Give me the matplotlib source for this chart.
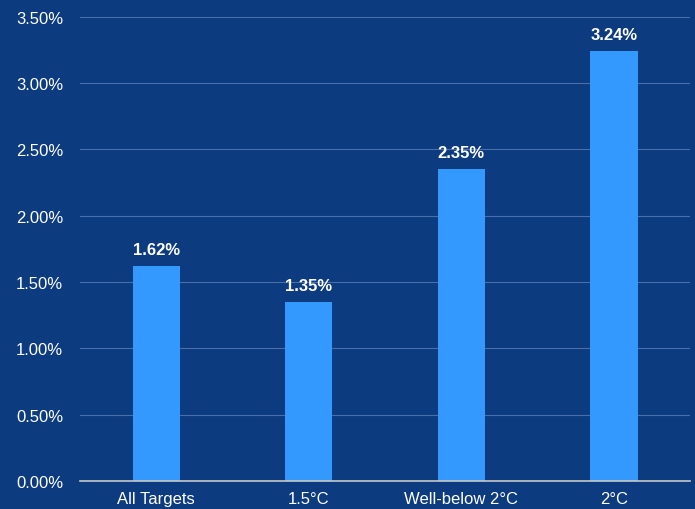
import matplotlib
matplotlib.use("Agg")
import matplotlib.pyplot as plt
from matplotlib.ticker import PercentFormatter

categories = ["All Targets", "1.5°C", "Well-below 2°C", "2°C"]
values = [1.62, 1.35, 2.35, 3.24]
yticks = [0.0, 0.5, 1.0, 1.5, 2.0, 2.5, 3.0, 3.5]

bg = "#0c3b80"
bar_color = "#3399ff"

plt.rcParams["font.family"] = ["Liberation Sans", "DejaVu Sans"]

fig = plt.figure(figsize=(6.95, 5.10), dpi=100, facecolor=bg)
ax = fig.add_axes([0.115, 0.055, 0.878, 0.91], facecolor=bg)

x = range(len(categories))
ax.bar(x, values, width=0.31, color=bar_color, zorder=3)
for xi, v in zip(x, values):
    ax.text(xi, v + 0.07, f"{v:.2f}%", ha="center", va="bottom",
            color="white", fontsize=12, fontweight="bold", zorder=4)

ax.set_xlim(-0.5, 3.5)
ax.set_ylim(0, 3.5)
ax.set_yticks(yticks)
ax.yaxis.set_major_formatter(PercentFormatter(decimals=2))
ax.set_xticks(list(x))
ax.set_xticklabels(categories)
ax.tick_params(axis="both", length=0, colors="white", labelsize=12)
ax.tick_params(axis="y", pad=12)
ax.tick_params(axis="x", pad=7)

ax.grid(axis="y", color="#4a6fa8", linewidth=0.8, zorder=0)
for s in ["top", "right", "left"]:
    ax.spines[s].set_visible(False)
ax.spines["bottom"].set_color("#c8c8c8")
ax.spines["bottom"].set_linewidth(1.2)
ax.spines["bottom"].set_zorder(5)

fig.savefig("out.png", dpi=100, facecolor=bg)
